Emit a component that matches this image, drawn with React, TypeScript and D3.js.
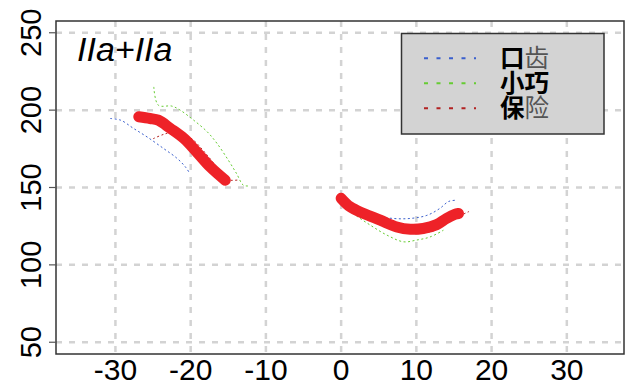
import * as d3 from "d3";

type Pt = [number, number];

// x ticks and y ticks
const xTicks = [-30, -20, -10, 0, 10, 20, 30];
const yTicks = [50, 100, 150, 200, 250];

// smoothed (thick red) curves
const fitLeft: Pt[] = [
  [-26.9, 195.7], [-25.4, 194.6], [-24.3, 193.5], [-22.7, 188.2], [-20.9, 181.7],
  [-19.2, 173], [-17.4, 163.3], [-15.4, 154.7],
];
const fitRight: Pt[] = [
  [0, 143], [1.2, 137.5], [3, 133.2], [5.2, 128.9], [7.4, 124.5], [9.2, 123],
  [10.9, 123.5], [12.7, 126], [14, 130], [15.1, 132.6], [15.6, 133.2],
];

// series: 口齿
const blueLeft: Pt[] = [
  [-30.7, 194.6], [-29.3, 193.5], [-27.6, 188.2], [-25.8, 182.7], [-23.6, 175.2],
  [-21.8, 168.8], [-20.7, 163.3], [-20.1, 159],
];
const blueRight: Pt[] = [
  [0, 144], [2.1, 137.5], [4.3, 132], [6.9, 130], [9.2, 130], [11.4, 132],
  [13.1, 136.4], [14.3, 141], [15.4, 141.8],
];
// series: 小巧
const greenLeft: Pt[] = [
  [-24.9, 215], [-24.3, 203.2], [-22.5, 202.6], [-21.4, 200], [-19.6, 193.5],
  [-17.8, 186], [-16.5, 178.5], [-15, 167.7], [-13.9, 159], [-13, 151.5], [-12.3, 151],
];
const greenRight: Pt[] = [
  [-0.3, 140.7], [1.6, 133.2], [3.9, 125.6], [6.1, 119.2], [8.3, 114.9], [10, 116],
  [11.8, 118], [13.6, 122.4],
];
// series: 保险
const redLeft: Pt[] = [
  [-25, 181.5], [-23.5, 184.5], [-22, 186], [-20, 182], [-18, 172], [-16, 160],
  [-15, 155], [-13.5, 155],
];
const redRight: Pt[] = [
  [0, 143], [2, 137], [4, 134], [6, 128], [8, 124], [10, 121], [12, 121.5],
  [14, 127], [15.5, 131], [17, 134.5],
];

const legendLabels = [
  ["口", "齿"],
  ["小", "巧"],
  ["保", "险"],
];
const legendColors = ["#3a5fcd", "#66cc33", "#b22222"];

export default function App() {
  const width = 626;
  const height = 380;
  const box = { left: 56, top: 21, right: 624, bottom: 354 };

  const x = d3.scaleLinear().domain([-37.9, 37.6]).range([box.left, box.right]);
  const y = d3.scaleLinear().domain([42.4, 257.6]).range([box.bottom, box.top]);

  const line = d3
    .line<Pt>()
    .x((d) => x(d[0]))
    .y((d) => y(d[1]))
    .curve(d3.curveCatmullRom);

  const font = "Liberation Sans, Arial, sans-serif";
  const cjk = "Noto Sans CJK SC, sans-serif";

  const thin = [
    { data: blueLeft, color: legendColors[0] },
    { data: blueRight, color: legendColors[0] },
    { data: greenLeft, color: legendColors[1] },
    { data: greenRight, color: legendColors[1] },
    { data: redLeft, color: legendColors[2] },
    { data: redRight, color: legendColors[2] },
  ];

  return (
    <div style={{ position: "fixed", left: 0, top: 0 }}>
      <svg width={width} height={height} style={{ display: "block", background: "#fff" }}>
        {/* Grid */}
        {xTicks.map((t) => (
          <line
            key={`gx${t}`}
            x1={x(t)}
            x2={x(t)}
            y1={box.top}
            y2={box.bottom}
            stroke="#d3d3d3"
            strokeWidth={2.5}
            strokeDasharray="6,7"
          />
        ))}
        {yTicks.map((t) => (
          <line
            key={`gy${t}`}
            x1={box.left}
            x2={box.right}
            y1={y(t)}
            y2={y(t)}
            stroke="#d3d3d3"
            strokeWidth={2.5}
            strokeDasharray="6,7"
          />
        ))}

        {/* Thin dotted series */}
        {thin.map((s, i) => (
          <path
            key={`t${i}`}
            d={line(s.data) ?? ""}
            fill="none"
            stroke={s.color}
            strokeWidth={1}
            strokeDasharray="2,2.5"
          />
        ))}

        {/* Thick red fit */}
        {[fitLeft, fitRight].map((d, i) => (
          <path
            key={`f${i}`}
            d={line(d) ?? ""}
            fill="none"
            stroke="#ee2228"
            strokeWidth={11}
            strokeLinecap="round"
            strokeLinejoin="round"
          />
        ))}

        {/* Box */}
        <rect
          x={box.left}
          y={box.top}
          width={box.right - box.left}
          height={box.bottom - box.top}
          fill="none"
          stroke="#333"
          strokeWidth={1.5}
        />

        {/* Y axis ticks + labels */}
        {yTicks.map((t) => (
          <g key={`yt${t}`}>
            <line x1={box.left - 7} x2={box.left} y1={y(t)} y2={y(t)} stroke="#555" strokeWidth={1.2} />
            <text
              transform={`translate(41,${y(t)}) rotate(-90)`}
              textAnchor="middle"
              fontFamily={font}
              fontSize={29}
              fill="#000"
            >
              {t}
            </text>
          </g>
        ))}

        {/* X labels */}
        {xTicks.map((t) => (
          <text
            key={`xt${t}`}
            x={x(t)}
            y={380}
            textAnchor="middle"
            fontFamily={font}
            fontSize={30}
            fill="#000"
          >
            {t}
          </text>
        ))}

        {/* Title */}
        <text x={77} y={61} fontFamily={font} fontStyle="italic" fontSize={34} fill="#000">
          IIa+IIa
        </text>

        {/* Legend */}
        <rect x={401.5} y={33.5} width={202.5} height={100.5} fill="#d3d3d3" stroke="#333" strokeWidth={1.5} />
        {legendLabels.map((lab, i) => {
          const ly = 58.3 + i * 25;
          return (
            <g key={`lg${i}`}>
              <line
                x1={424}
                x2={476}
                y1={ly}
                y2={ly}
                stroke={legendColors[i]}
                strokeWidth={2}
                strokeDasharray="4,8.5"
              />
              <text x={500} y={ly + 8.5} fontFamily={cjk} fontSize={24.5} fill="#000">
                <tspan fontWeight="bold">{lab[0]}</tspan>
                <tspan fill={i === 1 ? "#000" : "#555"} fontWeight={i === 1 ? "bold" : "normal"}>
                  {lab[1]}
                </tspan>
              </text>
            </g>
          );
        })}
      </svg>
    </div>
  );
}
